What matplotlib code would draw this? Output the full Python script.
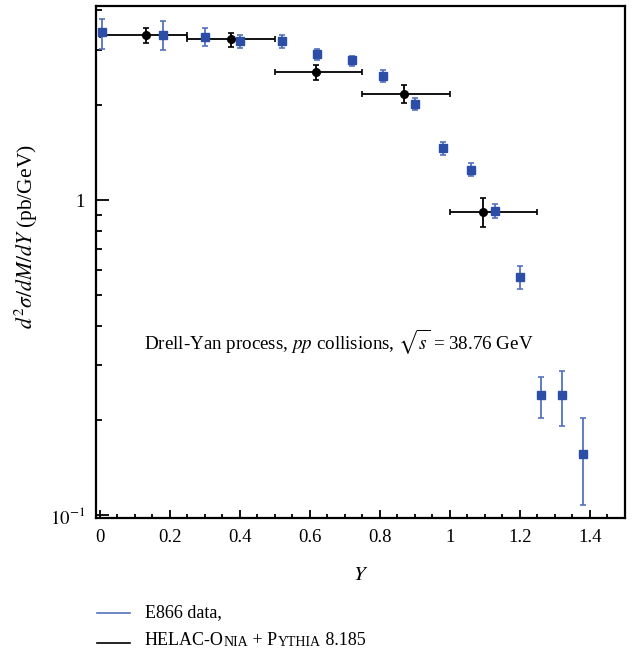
import matplotlib
matplotlib.use("Agg")
import matplotlib.pyplot as plt
from matplotlib.lines import Line2D
from matplotlib.ticker import NullFormatter, LogLocator, MultipleLocator
import numpy as np

plt.rcParams['font.family'] = ['Liberation Serif', 'DejaVu Serif']
plt.rcParams['mathtext.fontset'] = 'stix'

# E866 data
e866_y = [0.005, 0.18, 0.30, 0.40, 0.52, 0.62, 0.72, 0.81, 0.90, 0.98, 1.06, 1.13, 1.20, 1.26, 1.32, 1.38]
e866_val = [3.41, 3.35, 3.30, 3.19, 3.19, 2.90, 2.78, 2.48, 2.02, 1.46, 1.25, 0.923, 0.571, 0.240, 0.240, 0.156]
e866_hi = [3.75, 3.71, 3.52, 3.34, 3.34, 3.01, 2.87, 2.59, 2.11, 1.53, 1.31, 0.969, 0.617, 0.275, 0.287, 0.204]
e866_lo = [3.02, 2.99, 3.09, 3.04, 3.04, 2.78, 2.67, 2.37, 1.93, 1.39, 1.19, 0.875, 0.524, 0.204, 0.192, 0.108]

# HELAC-Onia + Pythia 8.185
helac_y = [0.131, 0.376, 0.617, 0.868, 1.093]
helac_val = [3.34, 3.24, 2.55, 2.17, 0.918]
helac_hi = [3.51, 3.40, 2.69, 2.32, 1.017]
helac_lo = [3.16, 3.07, 2.40, 2.03, 0.823]
bin_lo = [0.0, 0.25, 0.5, 0.75, 1.0]
bin_hi = [0.25, 0.5, 0.75, 1.0, 1.25]

xticks = [0, 0.2, 0.4, 0.6, 0.8, 1.0, 1.2, 1.4]
xticklabels = ['0', '0.2', '0.4', '0.6', '0.8', '1', '1.2', '1.4']

fig = plt.figure(figsize=(6.38, 6.5), dpi=100)
ax = fig.add_axes([96/638, 1-518/650, (625-96)/638, (518-6)/650])

blue = '#2c4ea6'
blue_err = '#5572bf'

hx = np.array(helac_y)
hv = np.array(helac_val)
ax.errorbar(hx, hv,
            xerr=[hx - np.array(bin_lo), np.array(bin_hi) - hx],
            yerr=[hv - np.array(helac_lo), np.array(helac_hi) - hv],
            fmt='o', color='black', ms=5.5, elinewidth=1.3, capsize=2, capthick=1.2, zorder=3)

ev = np.array(e866_val)
ax.errorbar(e866_y, ev,
            yerr=[ev - np.array(e866_lo), np.array(e866_hi) - ev],
            fmt='s', color=blue_err, mfc=blue, mec=blue, ms=5.5, elinewidth=1.3,
            capsize=2, capthick=1.2, zorder=4)

ax.set_yscale('log')
ax.set_xlim(-0.011, 1.5)
ax.set_ylim(0.098, 4.13)
ax.set_yticks([0.1, 1])
ax.set_yticklabels([r'$10^{-1}$', '1'])
ax.yaxis.set_minor_locator(LogLocator(base=10, subs=np.arange(2, 10)))
ax.yaxis.set_minor_formatter(NullFormatter())
ax.set_xticks(xticks)
ax.set_xticklabels(xticklabels)
ax.xaxis.set_minor_locator(MultipleLocator(0.05))

ax.tick_params(which='both', direction='in', top=False, right=False, labelsize=13.5, width=1.3)
ax.tick_params(axis='y', which='major', length=9, pad=8)
ax.tick_params(axis='y', which='minor', length=4)
ax.tick_params(axis='x', which='major', length=6, pad=8)
ax.tick_params(axis='x', which='minor', length=3)
for s in ax.spines.values():
    s.set_linewidth(1.6)

ax.set_xlabel(r'$Y$', fontsize=15, labelpad=14)
ax.set_ylabel(r'$d^2\sigma/dM/dY$ (pb/GeV)', fontsize=15.5)
ax.yaxis.set_label_coords(-0.105, 0.55)

ax.text(0.09, 0.345, r'Drell-Yan process, $pp$ collisions, $\sqrt{s}$ = 38.76 GeV',
        transform=ax.transAxes, fontsize=13.7, va='center', ha='left')

# legend drawn manually
fig.add_artist(Line2D([97/638, 130/638], [1-613/650]*2, color=blue_err, lw=1.2, transform=fig.transFigure))
fig.add_artist(Line2D([97/638, 130/638], [1-643/650]*2, color='black', lw=1.2, transform=fig.transFigure))
fig.text(145/638, 1-613/650, 'E866 data,', fontsize=13, va='center', ha='left')

pieces = [('HELAC-O', 13), ('NIA', 10), (' + P', 13), ('YTHIA', 10), (' 8.185', 13)]
prev = fig.text(145/638, 1-649/650, pieces[0][0], fontsize=pieces[0][1], va='bottom', ha='left')
for txt, sz in pieces[1:]:
    prev = ax.annotate(txt, xy=(1, 0), xycoords=prev, fontsize=sz, va='bottom', ha='left',
                       annotation_clip=False)

fig.savefig('out.png', dpi=100)
